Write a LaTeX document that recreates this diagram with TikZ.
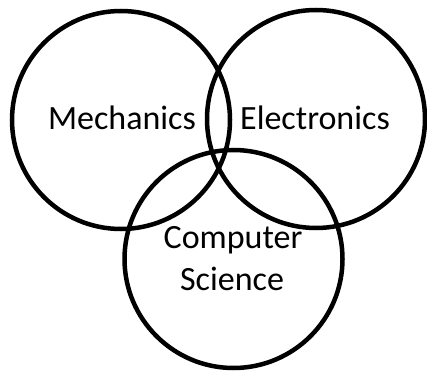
\documentclass[tikz,border=0pt]{standalone}
\usepackage{fontspec}
\setmainfont{Carlito}
\begin{document}
\begin{tikzpicture}[x=1pt,y=-1pt,
  venn/.style={draw=black,circle,line width=4.5pt,minimum size=218pt,inner sep=0pt},
  lbl/.style={anchor=base,inner sep=0pt,font=\fontsize{34}{42}\selectfont}]
\useasboundingbox (0,0) rectangle (427,371);
\node[venn] (mech) at (121,120) {};
\node[venn] (elec) at (316,119) {};
\node[venn] (cs) at (233.5,259) {};
\node[lbl] (tm) at (122,130) {Mechanics};
\node[lbl] (te) at (315,130) {Electronics};
\node[lbl] (tc1) at (233,248) {Computer};
\node[lbl] (tc2) at (232,290) {Science};
\end{tikzpicture}
\end{document}
